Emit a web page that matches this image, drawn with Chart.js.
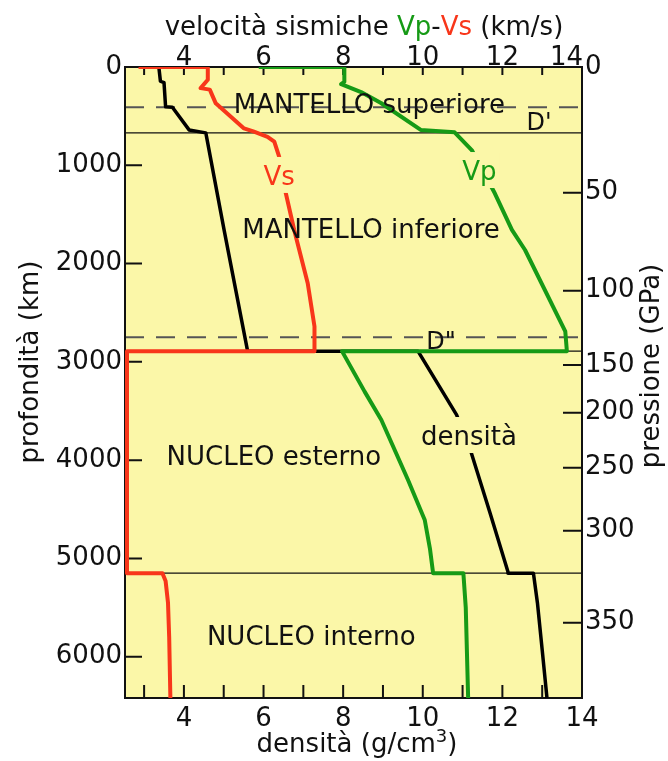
<!DOCTYPE html>
<html>
<head>
<meta charset="utf-8">
<script src="https://cdn.jsdelivr.net/npm/chart.js@4.4.0/dist/chart.umd.min.js"></script>
<style>
  html, body { margin: 0; padding: 0; background: #fff; }
  canvas { display: block; }
</style>
</head>
<body>
<canvas id="earthChart" width="668" height="761"></canvas>
<script>
// valori: profondità (km) e velocità (km/s) / densità (g/cm3)
const vpDepth = [0, 0, 150, 175, 255, 366, 640, 665, 845, 1285, 1658, 1862, 2690, 2891, 2891, 3303, 3591, 4202, 4609, 4900, 5150, 5150, 5500, 6420];
const vpValue = [5.88, 8.03, 8.03, 7.95, 8.45, 8.95, 9.95, 10.80, 11.23, 11.81, 12.24, 12.57, 13.58, 13.62, 7.97, 8.54, 8.96, 9.63, 10.05, 10.18, 10.26, 11.02, 11.08, 11.14];

const vsDepth = [0, 0, 130, 215, 230, 370, 625, 658, 710, 760, 910, 1285, 1658, 2200, 2640, 2891, 2891, 5150, 5150, 5230, 5450, 5800, 6420];
const vsValue = [2.86, 4.60, 4.60, 4.42, 4.65, 4.80, 5.51, 5.76, 6.10, 6.27, 6.39, 6.56, 6.77, 7.11, 7.28, 7.28, 2.57, 2.57, 3.46, 3.54, 3.60, 3.63, 3.66];

const rhoDepth = [0, 145, 160, 405, 410, 640, 670, 1660, 2891, 2891, 3540, 3927, 4550, 5135, 5150, 5150, 5450, 5930, 6420];
const rhoValue = [3.37, 3.41, 3.50, 3.54, 3.71, 4.13, 4.55, 5.01, 5.60, 9.88, 10.85, 11.22, 11.70, 12.14, 12.14, 12.78, 12.88, 13.00, 13.12];

const depthTicks = [0, 1000, 2000, 3000, 4000, 5000, 6000];
const valueTicks = [4, 6, 8, 10, 12, 14];
const minorTicks = [3, 4, 5, 6, 7, 8, 9, 10, 11, 12, 13];
const pressLabels = [0, 50, 100, 150, 200, 250, 300, 350];
const pressDepth = [0, 1279, 2276, 3032, 3517, 4077, 4718, 5654];

const solidBounds = [670, 2891, 5150];
const dashedBounds = [410, 2750];

const FONT = '"DejaVu Sans", sans-serif';
const YELLOW = '#fbf7a8';
const RED = '#f8361a';
const GREEN = '#169a16';
const INK = '#111';

const toPoints = (vals, depths) => vals.map((v, i) => ({ x: v, y: depths[i] }));

const labels = [
  { text: 'MANTELLO superiore', x: 8.66, d: 471 },
  { text: 'MANTELLO inferiore', x: 8.70, d: 1740 },
  { text: 'NUCLEO esterno', x: 6.26, d: 4049 },
  { text: 'NUCLEO interno', x: 7.20, d: 5881 },
  { text: "D'", x: 12.92, d: 641, size: 24 },
  { text: 'D"', x: 10.46, d: 2869, size: 24 },
  { text: 'densità', x: 11.16, d: 3846, box: true },
  { text: 'Vs', x: 6.39, d: 1200, box: true, color: RED },
  { text: 'Vp', x: 11.42, d: 1150, box: true, color: GREEN }
];

const earthPlugin = {
  id: 'earth',
  beforeDatasetsDraw(chart) {
    const { ctx, chartArea: a, scales } = chart;
    ctx.save();
    ctx.fillStyle = YELLOW;
    ctx.fillRect(a.left, a.top, a.width, a.height);

    ctx.strokeStyle = INK;
    ctx.lineWidth = 1.3;
    solidBounds.forEach(d => {
      const y = scales.y.getPixelForValue(d);
      ctx.beginPath(); ctx.moveTo(a.left, y); ctx.lineTo(a.right, y); ctx.stroke();
    });
    ctx.strokeStyle = '#555';
    ctx.lineWidth = 2;
    ctx.setLineDash([19, 12]);
    dashedBounds.forEach(d => {
      const y = scales.y.getPixelForValue(d);
      ctx.beginPath(); ctx.moveTo(a.left, y); ctx.lineTo(a.right, y); ctx.stroke();
    });
    ctx.setLineDash([]);

    // tacche interne
    ctx.strokeStyle = INK;
    ctx.lineWidth = 2;
    ctx.beginPath();
    minorTicks.forEach(v => {
      const xt = scales.x2.getPixelForValue(v);
      ctx.moveTo(xt, a.top); ctx.lineTo(xt, a.top + 8);
      const xb = scales.x.getPixelForValue(v);
      ctx.moveTo(xb, a.bottom); ctx.lineTo(xb, a.bottom - 13);
    });
    depthTicks.slice(1).forEach(d => {
      const y = scales.y.getPixelForValue(d);
      ctx.moveTo(a.left, y); ctx.lineTo(a.left + 17, y);
    });
    pressDepth.slice(1).forEach(d => {
      const y = scales.yP.getPixelForValue(d);
      ctx.moveTo(a.right, y); ctx.lineTo(a.right - 19, y);
    });
    ctx.stroke();
    ctx.strokeRect(a.left, a.top, a.width, a.height);
    ctx.restore();
  },
  afterDatasetsDraw(chart) {
    const { ctx, scales } = chart;
    ctx.save();
    ctx.textAlign = 'center';
    ctx.textBaseline = 'alphabetic';
    labels.forEach(l => {
      const x = scales.x.getPixelForValue(l.x);
      const y = scales.y.getPixelForValue(l.d);
      ctx.font = (l.size || 26) + 'px ' + FONT;
      if (l.box) {
        const w = ctx.measureText(l.text).width + 6;
        ctx.fillStyle = YELLOW;
        ctx.fillRect(x - w / 2, y - 28, w, 36);
      }
      ctx.fillStyle = l.color || INK;
      ctx.fillText(l.text, x, y);
    });
    ctx.restore();
  },
  afterDraw(chart) {
    const { ctx, scales } = chart;
    ctx.save();
    ctx.font = '26px ' + FONT;
    ctx.textBaseline = 'alphabetic';

    // etichette asse superiore
    ctx.fillStyle = INK;
    valueTicks.forEach((v, i) => {
      const x = scales.x2.getPixelForValue(v);
      const last = i === valueTicks.length - 1;
      ctx.textAlign = last ? 'right' : 'center';
      ctx.fillText(String(v), last ? x + 1 : x, 65);
    });

    // titolo superiore con Vp e Vs colorati
    const parts = [['velocità sismiche ', INK], ['Vp', GREEN], ['-', INK], ['Vs', RED], [' (km/s)', INK]];
    ctx.textAlign = 'left';
    const total = parts.reduce((s, p) => s + ctx.measureText(p[0]).width, 0);
    let x = 364 - total / 2;
    parts.forEach(p => {
      ctx.fillStyle = p[1];
      ctx.fillText(p[0], x, 35);
      x += ctx.measureText(p[0]).width;
    });

    // titolo inferiore
    ctx.fillStyle = INK;
    const t1 = 'densità (g/cm', t2 = '3', t3 = ')';
    const w1 = ctx.measureText(t1).width, w3 = ctx.measureText(t3).width;
    ctx.font = '18px ' + FONT;
    const w2 = ctx.measureText(t2).width;
    const bx = 357 - (w1 + w2 + w3) / 2;
    ctx.font = '26px ' + FONT;
    ctx.fillText(t1, bx, 752);
    ctx.font = '18px ' + FONT;
    ctx.fillText(t2, bx + w1, 742);
    ctx.font = '26px ' + FONT;
    ctx.fillText(t3, bx + w1 + w2, 752);

    // titoli verticali
    ctx.textAlign = 'center';
    ctx.textBaseline = 'middle';
    ctx.save();
    ctx.translate(31, 362);
    ctx.rotate(-Math.PI / 2);
    ctx.fillText('profondità (km)', 0, 0);
    ctx.restore();
    ctx.save();
    ctx.translate(652, 366);
    ctx.rotate(-Math.PI / 2);
    ctx.fillText('pressione (GPa)', 0, 0);
    ctx.restore();
    ctx.restore();
  }
};

const tickFont = { family: FONT, size: 26 };

new Chart(document.getElementById('earthChart'), {
  type: 'scatter',
  data: {
    datasets: [
      { label: 'Vp', data: toPoints(vpValue, vpDepth), xAxisID: 'x2', yAxisID: 'y',
        borderColor: GREEN, borderWidth: 4 },
      { label: 'Vs', data: toPoints(vsValue, vsDepth), xAxisID: 'x2', yAxisID: 'y',
        borderColor: RED, borderWidth: 4 },
      { label: 'densità', data: toPoints(rhoValue, rhoDepth), xAxisID: 'x', yAxisID: 'y',
        borderColor: '#000', borderWidth: 3.5 }
    ]
  },
  options: {
    responsive: false,
    devicePixelRatio: 1,
    animation: false,
    layout: { padding: 0 },
    showLine: true,
    elements: {
      point: { radius: 0, hoverRadius: 0 },
      line: { tension: 0, borderJoinStyle: 'round', fill: false }
    },
    plugins: { legend: { display: false }, tooltip: { enabled: false } },
    scales: {
      x: {
        type: 'linear', position: 'bottom', min: 2.52, max: 14,
        grid: { display: false, drawTicks: false }, border: { display: false },
        afterBuildTicks: s => { s.ticks = valueTicks.map(v => ({ value: v })); },
        afterFit: s => { s.height = 63; },
        ticks: { font: tickFont, color: INK, padding: 6, maxRotation: 0, autoSkip: false,
          callback: v => String(v) }
      },
      x2: {
        type: 'linear', position: 'top', min: 2.52, max: 14,
        grid: { display: false, drawTicks: false }, border: { display: false },
        afterFit: s => { s.height = 67; },
        ticks: { display: false }
      },
      y: {
        type: 'linear', position: 'left', reverse: true, min: 0, max: 6420,
        grid: { display: false, drawTicks: false }, border: { display: false },
        afterBuildTicks: s => { s.ticks = depthTicks.map(v => ({ value: v })); },
        afterFit: s => { s.width = 125; },
        ticks: { font: tickFont, color: INK, padding: 3, autoSkip: false,
          callback: v => String(v) }
      },
      yP: {
        type: 'linear', position: 'right', reverse: true, min: 0, max: 6420,
        grid: { display: false, drawTicks: false }, border: { display: false },
        afterBuildTicks: s => { s.ticks = pressDepth.map(v => ({ value: v })); },
        afterFit: s => { s.width = 86; },
        ticks: {
          font: tickFont, color: INK, padding: 3, autoSkip: false,
          callback: (value, index) => String(pressLabels[index])
        }
      }
    }
  },
  plugins: [earthPlugin]
});
</script>
</body>
</html>
